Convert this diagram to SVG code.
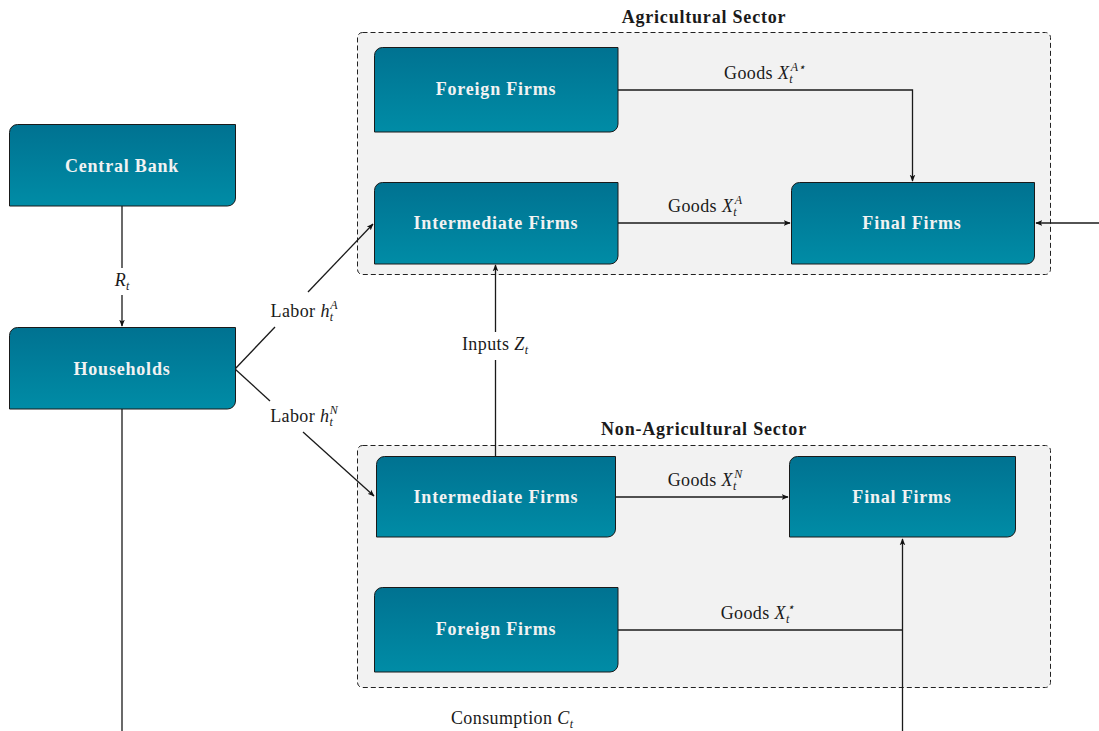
<svg xmlns="http://www.w3.org/2000/svg" width="1099" height="731" viewBox="0 0 1099 731">
<defs>
<linearGradient id="g" x1="0" y1="0" x2="0" y2="1">
<stop offset="0" stop-color="#007291"/>
<stop offset="1" stop-color="#008CA6"/>
</linearGradient>
<marker id="ah" viewBox="0 0 10 10" refX="9" refY="5" markerWidth="7" markerHeight="7" markerUnits="userSpaceOnUse" orient="auto">
<path d="M0,1 L10,5 L0,9 L2.5,5 Z" fill="#111"/>
</marker>
<style>
.node{fill:url(#g);stroke:#1a1a1a;stroke-width:1}
.nt{font-family:"Liberation Serif","DejaVu Serif",serif;font-size:18px;letter-spacing:0.8px;font-weight:bold;fill:#f2f2f2;text-anchor:middle;dominant-baseline:central}
.sector{fill:#f2f2f2;stroke:#222;stroke-width:1;stroke-dasharray:5 3}
.st{font-family:"Liberation Serif","DejaVu Serif",serif;font-size:18px;letter-spacing:0.8px;font-weight:bold;fill:#1a1a1a;text-anchor:middle}
.lbl{font-family:"Liberation Serif","DejaVu Serif",serif;font-size:18px;letter-spacing:0.4px;fill:#1a1a1a;text-anchor:middle}
.m{font-style:italic}
.sub{font-size:12px;font-style:italic;letter-spacing:0}
.ln{fill:none;stroke:#1a1a1a;stroke-width:1.3}
</style>
</defs>
<g id="sectors">
<rect class="sector" x="357.5" y="32.5" width="693" height="242" rx="5"/>
<text class="st" x="704" y="23">Agricultural Sector</text>
<rect class="sector" x="357.5" y="445.5" width="693" height="242" rx="5"/>
<text class="st" x="704" y="435">Non-Agricultural Sector</text>
</g>
<g id="connectors">
<path class="ln" d="M122,206 V268"/>
<path class="ln" d="M122,295 V326" marker-end="url(#ah)"/>
<path class="ln" d="M235,369 L275,327"/>
<path class="ln" d="M308,292 L373,224" marker-end="url(#ah)"/>
<path class="ln" d="M235,369 L270,401"/>
<path class="ln" d="M303,432 L374,496" marker-end="url(#ah)"/>
<path class="ln" d="M495.5,456 V360"/>
<path class="ln" d="M495.5,332 V265" marker-end="url(#ah)"/>
<path class="ln" d="M618,90 H912.5 V181" marker-end="url(#ah)"/>
<path class="ln" d="M618,223 H790" marker-end="url(#ah)"/>
<path class="ln" d="M1099,223 H1036" marker-end="url(#ah)"/>
<path class="ln" d="M615,497 H788" marker-end="url(#ah)"/>
<path class="ln" d="M618,630 H903"/>
<path class="ln" d="M902.5,731 V539" marker-end="url(#ah)"/>
<path class="ln" d="M122,409 V731"/>
<text class="lbl" x="122" y="286"><tspan class="m">R</tspan><tspan class="sub" dy="4">t</tspan></text>
<text class="lbl" x="304" y="317">Labor <tspan class="m">h</tspan><tspan class="sub" dy="4">t</tspan><tspan class="sub" dx="-3" dy="-12">A</tspan></text>
<text class="lbl" x="304" y="422">Labor <tspan class="m">h</tspan><tspan class="sub" dy="4">t</tspan><tspan class="sub" dx="-3" dy="-12">N</tspan></text>
<text class="lbl" x="495" y="350">Inputs <tspan class="m">Z</tspan><tspan class="sub" dy="4">t</tspan></text>
<text class="lbl" x="765" y="79">Goods <tspan class="m">X</tspan><tspan class="sub" dy="4">t</tspan><tspan class="sub" dx="-2" dy="-12">A⋆</tspan></text>
<text class="lbl" x="705" y="212">Goods <tspan class="m">X</tspan><tspan class="sub" dy="4">t</tspan><tspan class="sub" dx="-2" dy="-12">A</tspan></text>
<text class="lbl" x="705" y="486">Goods <tspan class="m">X</tspan><tspan class="sub" dy="4">t</tspan><tspan class="sub" dx="-2" dy="-12">N</tspan></text>
<text class="lbl" x="758" y="619">Goods <tspan class="m">X</tspan><tspan class="sub" dy="4">t</tspan><tspan class="sub" dx="-2" dy="-12">⋆</tspan></text>
<text class="lbl" x="512" y="724">Consumption <tspan class="m">C</tspan><tspan class="sub" dy="4">t</tspan></text>
</g>
<g id="central-bank">
<path class="node" d="M17.5,124.5 H235.5 V198 A8,8 0 0 1 227.5,206 H9.5 V132.5 A8,8 0 0 1 17.5,124.5 Z"/>
<text class="nt" x="122" y="166">Central Bank</text>
</g>
<g id="households">
<path class="node" d="M17.5,327.5 H235.5 V401 A8,8 0 0 1 227.5,409 H9.5 V335.5 A8,8 0 0 1 17.5,327.5 Z"/>
<text class="nt" x="122" y="369">Households</text>
</g>
<g id="foreign-firms-a">
<path class="node" d="M382.5,47.5 H618 V124 A8,8 0 0 1 610,132 H374.5 V55.5 A8,8 0 0 1 382.5,47.5 Z"/>
<text class="nt" x="496" y="89">Foreign Firms</text>
</g>
<g id="intermediate-firms-a">
<path class="node" d="M382.5,182.5 H618 V256 A8,8 0 0 1 610,264 H374.5 V190.5 A8,8 0 0 1 382.5,182.5 Z"/>
<text class="nt" x="496" y="223">Intermediate Firms</text>
</g>
<g id="final-firms-a">
<path class="node" d="M799.5,182.5 H1034.5 V256 A8,8 0 0 1 1026.5,264 H791.5 V190.5 A8,8 0 0 1 799.5,182.5 Z"/>
<text class="nt" x="912" y="223">Final Firms</text>
</g>
<g id="intermediate-firms-n">
<path class="node" d="M384.5,456.5 H615.5 V529 A8,8 0 0 1 607.5,537 H376.5 V464.5 A8,8 0 0 1 384.5,456.5 Z"/>
<text class="nt" x="496" y="497">Intermediate Firms</text>
</g>
<g id="final-firms-n">
<path class="node" d="M797.5,456.5 H1015.5 V529 A8,8 0 0 1 1007.5,537 H789.5 V464.5 A8,8 0 0 1 797.5,456.5 Z"/>
<text class="nt" x="902" y="497">Final Firms</text>
</g>
<g id="foreign-firms-n">
<path class="node" d="M382.5,587.5 H618 V664 A8,8 0 0 1 610,672 H374.5 V595.5 A8,8 0 0 1 382.5,587.5 Z"/>
<text class="nt" x="496" y="629">Foreign Firms</text>
</g>
</svg>
